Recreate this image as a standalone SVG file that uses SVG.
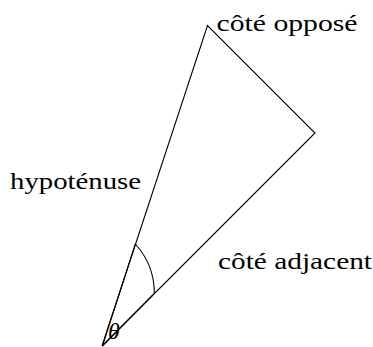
<svg xmlns="http://www.w3.org/2000/svg" width="373" height="347" viewBox="0 0 373 347">
<style>
.ln{fill:none;stroke:#000;stroke-width:1.1;stroke-linejoin:miter}
.t{font-family:"Liberation Serif","Times New Roman",serif;font-size:23px;fill:#000}
.th{font-family:"Liberation Serif","Times New Roman",serif;font-size:24px;font-style:italic;fill:#000}
</style>
<rect width="373" height="347" fill="#fff"/>
<g id="connectors">
<path class="ln" d="M102,346 L207.5,25.5 L315,133 Z"/>
<path class="ln" d="M102.4,346 L135.3,244 A73,73 0 0,1 154.3,293.5 Z"/>
</g>
<g id="label-opposite"><text class="t" x="216.5" y="31" textLength="141" lengthAdjust="spacingAndGlyphs">côté opposé</text></g>
<g id="label-hypotenuse"><text class="t" x="10" y="189" textLength="131" lengthAdjust="spacingAndGlyphs">hypoténuse</text></g>
<g id="label-adjacent"><text class="t" x="218" y="269" textLength="154" lengthAdjust="spacingAndGlyphs">côté adjacent</text></g>
<g id="label-theta"><text class="th" x="108" y="339">θ</text></g>
</svg>
